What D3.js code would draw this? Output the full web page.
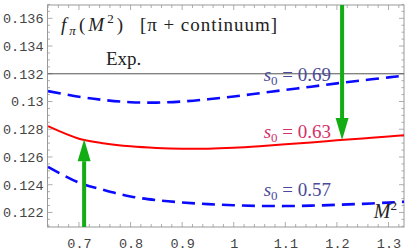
<!DOCTYPE html>
<html><head><meta charset="utf-8">
<script src="https://cdn.jsdelivr.net/npm/d3@7"></script>
<style>html,body{margin:0;padding:0;background:#fff;}svg{display:block;}
.mono{font-family:"Liberation Mono","Courier New",monospace;}
.serif{font-family:"Liberation Serif","Times New Roman",serif;}
</style>
</head><body>
<svg id="chart" width="407" height="251"></svg>
<script>
// ---- data ----
const mValues = [0.64, 0.70, 0.75, 0.80, 0.85, 0.90, 0.95, 1.00, 1.05, 1.10, 1.15, 1.20, 1.25, 1.30, 1.33];
const fpiS069 = [0.13075, 0.13034, 0.13010, 0.12995, 0.12992, 0.13000, 0.13016, 0.13036, 0.13060, 0.13084, 0.13107, 0.13131, 0.13153, 0.13174, 0.13187];
const fpiS063 = [0.12822, 0.12732, 0.12698, 0.12677, 0.12665, 0.12659, 0.12660, 0.12667, 0.12678, 0.12691, 0.12705, 0.12720, 0.12734, 0.12748, 0.12757];
const fpiS057 = [0.12529, 0.12415, 0.12360, 0.12315, 0.12289, 0.12272, 0.12260, 0.12252, 0.12247, 0.12246, 0.12249, 0.12255, 0.12262, 0.12271, 0.12277];
const expValue = 0.132;
const xTicks = [0.7, 0.8, 0.9, 1.0, 1.1, 1.2, 1.3];
const xTickLabels = ["0.7", "0.8", "0.9", "1", "1.1", "1.2", "1.3"];
const yTicks = [0.122, 0.124, 0.126, 0.128, 0.130, 0.132, 0.134, 0.136];
const yTickLabels = ["0.122", "0.124", "0.126", "0.128", "0.13", "0.132", "0.134", "0.136"];
const arrowM = [0.71, 1.21];
const arrowTip = [0.12728, 0.12722];
const seriesLabels = ["0.69", "0.63", "0.57"];

// ---- layout ----
const svg = d3.select("#chart");
const L = 47.5, R = 404, T = 5, B = 227;
const x = d3.scaleLinear().domain([0.639, 1.33]).range([L, R]);
const y = d3.scaleLinear().domain([0.12095, 0.13696]).range([B, T]);

svg.append("defs").append("clipPath").attr("id", "clip")
  .append("rect").attr("x", L).attr("y", T).attr("width", R - L).attr("height", B - T);

const frameColor = "#999";
const xMinor = d3.range(0.64, 1.331, 0.02);
const yMinor = d3.range(0.121, 0.1370001, 0.0005);
const tg = svg.append("g").attr("stroke", frameColor).attr("stroke-width", 0.8);
xMinor.forEach(v => {
  const major = xTicks.some(t => Math.abs(t - v) < 1e-6);
  const len = major ? 5 : 3;
  tg.append("line").attr("x1", x(v)).attr("x2", x(v)).attr("y1", B).attr("y2", B - len);
  tg.append("line").attr("x1", x(v)).attr("x2", x(v)).attr("y1", T).attr("y2", T + len);
});
yMinor.forEach(v => {
  const major = yTicks.some(t => Math.abs(t - v) < 1e-7);
  const len = major ? 5 : 2.5;
  tg.append("line").attr("y1", y(v)).attr("y2", y(v)).attr("x1", L).attr("x2", L + len);
  tg.append("line").attr("y1", y(v)).attr("y2", y(v)).attr("x1", R).attr("x2", R - len);
});

const xAxis = d3.axisBottom(x).tickValues(xTicks).tickFormat((d, i) => xTickLabels[i]).tickSize(0).tickPadding(8);
const yAxis = d3.axisLeft(y).tickValues(yTicks).tickFormat((d, i) => yTickLabels[i]).tickSize(0).tickPadding(4);
const gx = svg.append("g").attr("transform", `translate(0,${B})`).call(xAxis);
const gy = svg.append("g").attr("transform", `translate(${L},0)`).call(yAxis);
[gx, gy].forEach(g => {
  g.attr("font-family", null).attr("font-size", null);
  g.select(".domain").remove();
  g.selectAll("text").attr("class", "mono")
    .style("font-family", '"Liberation Mono","Courier New",monospace')
    .style("font-size", "13.5px").attr("fill", "#444");
});
gx.selectAll("text").attr("dy", "0.95em");

svg.append("rect").attr("x", L).attr("y", T).attr("width", R - L).attr("height", B - T)
  .attr("fill", "none").attr("stroke", frameColor).attr("stroke-width", 1);

const plot = svg.append("g").attr("clip-path", "url(#clip)");

plot.append("line").attr("x1", L).attr("x2", R).attr("y1", y(expValue)).attr("y2", y(expValue))
  .attr("stroke", "#555").attr("stroke-width", 1);

const line = d3.line().x(d => x(d[0])).y(d => y(d[1])).curve(d3.curveCatmullRom);
const zip = arr => mValues.map((m, i) => [m, arr[i]]);

plot.append("path").datum(zip(fpiS069)).attr("d", line).attr("fill", "none")
  .attr("stroke", "#0a0aff").attr("stroke-width", 2.6).attr("stroke-dasharray", "13,7");
plot.append("path").datum(zip(fpiS057)).attr("d", line).attr("fill", "none")
  .attr("stroke", "#0a0aff").attr("stroke-width", 2.6).attr("stroke-dasharray", "13,7");
plot.append("path").datum(zip(fpiS063)).attr("d", line).attr("fill", "none")
  .attr("stroke", "#ff0000").attr("stroke-width", 2);

const green = "#12ad12";
const yBounds = y.domain();
arrowM.forEach((m, i) => {
  const xa = x(m);
  const tipY = y(arrowTip[i]);
  const fromY = i === 0 ? y(yBounds[0]) : y(yBounds[1]);
  const dir = i === 0 ? -1 : 1;
  const headLen = 22, headW = 6.5;
  const baseY = tipY - dir * headLen;
  plot.append("line").attr("x1", xa).attr("x2", xa).attr("y1", fromY).attr("y2", baseY)
    .attr("stroke", green).attr("stroke-width", 4);
  plot.append("path")
    .attr("d", `M${xa},${tipY}L${xa - headW},${baseY}L${xa + headW},${baseY}Z`)
    .attr("fill", green);
});

const serifFam = '"Liberation Serif","Times New Roman",serif';
function stext(xp, yp, size, color) {
  return svg.append("text").attr("x", xp).attr("y", yp)
    .style("font-family", serifFam).style("font-size", size + "px").attr("fill", color);
}
const title = stext(61, 31, 19, "#222").attr("textLength", 62).attr("lengthAdjust", "spacing");
title.append("tspan").style("font-style", "italic").text("f");
title.append("tspan").style("font-style", "italic").style("font-size", "13px").attr("dy", 4).text("π");
title.append("tspan").attr("dy", -4).text("(");
title.append("tspan").style("font-style", "italic").text("M");
title.append("tspan").style("font-size", "13px").attr("dy", -8).text("2");
title.append("tspan").attr("dy", 8).text(")");
stext(140, 31, 19, "#222").attr("textLength", 137).attr("lengthAdjust", "spacing").text("[π + continuum]");

stext(106, 65, 19, "#222").text("Exp.");

const labelColors = ["#4a4a98", "#d4306a", "#4a4a98"];
const labelY = [81, 138, 196];
seriesLabels.forEach((s, i) => {
  const t = stext(331, labelY[i], 19, labelColors[i]).attr("text-anchor", "end");
  t.append("tspan").style("font-style", "italic").text("s");
  t.append("tspan").style("font-size", "13px").attr("dy", 4).text("0");
  t.append("tspan").attr("dy", -4).text(" = " + s);
});

const mlab = stext(397, 218, 20, "#222").attr("text-anchor", "end");
mlab.append("tspan").style("font-style", "italic").text("M");
mlab.append("tspan").style("font-size", "13px").attr("dy", -8).text("2");
</script>
</body></html>
